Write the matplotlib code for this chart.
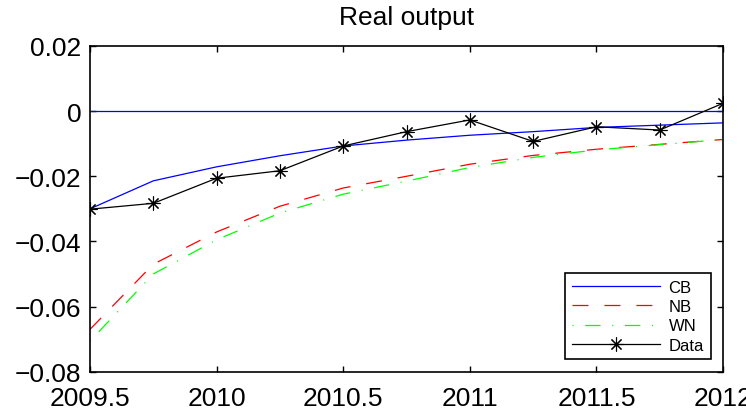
import matplotlib
matplotlib.use('Agg')
import matplotlib.pyplot as plt

# quarterly dates and series
dates = [2009.5, 2009.75, 2010.0, 2010.25, 2010.5, 2010.75,
         2011.0, 2011.25, 2011.5, 2011.75, 2012.0]
cb = [-0.0300, -0.0214, -0.0171, -0.0137, -0.0107, -0.0089,
      -0.0074, -0.0063, -0.0050, -0.0043, -0.0036]
nb = [-0.0670, -0.0470, -0.0371, -0.0292, -0.0236, -0.0200,
      -0.0163, -0.0136, -0.0117, -0.0102, -0.0087]
wn = [-0.0706, -0.0500, -0.0395, -0.0313, -0.0255, -0.0215,
      -0.0173, -0.0142, -0.0119, -0.0103, -0.0087]
data = [-0.0301, -0.0283, -0.0206, -0.0183, -0.0107, -0.0063,
        -0.0027, -0.0093, -0.0048, -0.0058, 0.0024]
zero_line = [0.0] * len(dates)

xticks = [2009.5, 2010, 2010.5, 2011, 2011.5, 2012]
xtick_labels = ['2009.5', '2010', '2010.5', '2011', '2011.5', '2012']
yticks = [-0.08, -0.06, -0.04, -0.02, 0, 0.02]
ytick_labels = ['\u22120.08', '\u22120.06', '\u22120.04', '\u22120.02', '0', '0.02']

plt.rcParams['font.family'] = ['Liberation Sans', 'DejaVu Sans']
plt.rcParams['lines.scale_dashes'] = False

fig = plt.figure(figsize=(7.46, 4.14), dpi=100)
ax = fig.add_axes([90 / 746, 1 - 372.7 / 414, 633 / 746, 325.7 / 414])

lw = 0.9
ax.plot(dates, zero_line, color=(0, 0, 1), lw=lw)
ax.plot(dates, cb, color=(0, 0, 1), lw=lw, label='CB')
ax.plot(dates, nb, color=(1, 0, 0), lw=lw, dashes=[11.5, 11.5], label='NB')
ax.plot(dates, wn, color=(0, 1, 0), lw=lw, dashes=[0.8, 8.4, 11, 8.4], label='WN')
ax.plot(dates, data, color='black', lw=lw, marker=(8, 2, 0), markersize=10,
        markeredgewidth=0.8, label='Data')

ax.set_xlim(2009.5, 2012)
ax.set_ylim(-0.08, 0.02)
ax.set_xticks(xticks)
ax.set_xticklabels(xtick_labels)
ax.set_yticks(yticks)
ax.set_yticklabels(ytick_labels)
ax.tick_params(direction='in', length=4.3, width=1.0, labelsize=19,
               top=True, right=True)
ax.tick_params(axis='x', pad=10)
ax.tick_params(axis='y', pad=6)
for sp in ax.spines.values():
    sp.set_linewidth(1.2)

ax.set_title('Real output', fontsize=19, pad=15.5)

leg = ax.legend(loc='lower right', fontsize=12, handlelength=5.3,
                handletextpad=0.5, labelspacing=0.25, borderpad=0.4,
                borderaxespad=0.75, fancybox=False, framealpha=1,
                edgecolor='black')
leg.get_frame().set_linewidth(1.2)

fig.savefig('out.png', dpi=100)
